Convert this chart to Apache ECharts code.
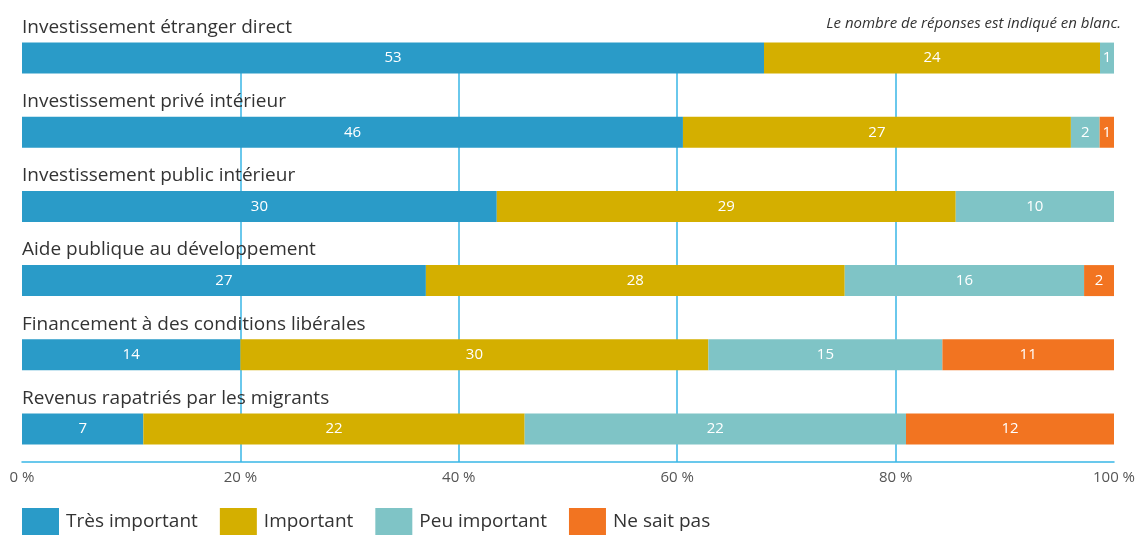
<!DOCTYPE html>
<html><head><meta charset="utf-8">
<script src="https://cdn.jsdelivr.net/npm/echarts@6/dist/echarts.min.js"></script>
<style>html,body{margin:0;padding:0;background:#fff}#c{width:1140px;height:538px}</style>
</head><body><div id="c"></div>
<script>
const categories = [
  "Investissement étranger direct",
  "Investissement privé intérieur",
  "Investissement public intérieur",
  "Aide publique au développement",
  "Financement à des conditions libérales",
  "Revenus rapatriés par les migrants"
];
const seriesNames = ["Très important", "Important", "Peu important", "Ne sait pas"];
const tresImportant = [53, 46, 30, 27, 14, 7];
const important = [24, 27, 29, 28, 30, 22];
const peuImportant = [1, 2, 10, 16, 15, 22];
const neSaitPas = [0, 1, 0, 2, 11, 12];
const xTicks = [0, 20, 40, 60, 80, 100];
const note = "Le nombre de réponses est indiqué en blanc.";

const counts = [tresImportant, important, peuImportant, neSaitPas];
const colors = ["#2a9bc8", "#d4af00", "#7fc4c6", "#f27421"];
const totals = categories.map((_, i) => counts.reduce((s, a) => s + a[i], 0));
const FONT = "'Open Sans', 'Noto Sans', sans-serif";

const series = counts.map((arr, k) => ({
  name: seriesNames[k],
  type: 'bar',
  stack: 'all',
  xAxisIndex: 0, yAxisIndex: 0,
  barWidth: 31,
  itemStyle: { color: colors[k] },
  data: arr.map((v, i) => ({ value: v / totals[i] * 100, count: v })),
  label: {
    show: true, position: 'inside', color: '#fff', fontSize: 15, fontFamily: FONT,
    formatter: p => p.data.count > 0 ? String(p.data.count) : ''
  },
  emphasis: { disabled: true }
}));

const chart = echarts.init(document.getElementById('c'));
chart.setOption({
  animation: false,
  title: {
    text: note, right: 19, top: 16, padding: 0,
    textStyle: { fontStyle: 'italic', fontWeight: 'normal', fontSize: 15, color: '#333', fontFamily: FONT }
  },
  legend: {
    bottom: 3, left: 22, padding: 0, itemWidth: 37, itemHeight: 27, itemGap: 22,
    icon: 'rect',
    textStyle: { fontSize: 19, color: '#333', fontFamily: FONT, padding: [0, 0, 0, 2] },
    data: seriesNames
  },
  grid: [
    { left: 22, right: 26, top: 21, height: 445 },
    { left: 22, right: 26, top: 43, bottom: 76 }
  ],
  xAxis: [
    { gridIndex: 0, type: 'value', min: 0, max: 100, show: false },
    {
      gridIndex: 1, type: 'value', min: xTicks[0], max: xTicks[xTicks.length - 1], interval: xTicks[1] - xTicks[0],
      axisLine: { show: true, lineStyle: { color: '#38b6e6', width: 1.5 } },
      axisTick: { show: false },
      splitLine: { show: true, showMinLine: false, showMaxLine: false, lineStyle: { color: '#38b6e6', width: 1.5 } },
      axisLabel: { formatter: '{value} %', color: '#555', fontSize: 15, fontFamily: FONT, margin: 8 }
    }
  ],
  yAxis: [
    {
      gridIndex: 0, type: 'category', inverse: true, data: categories,
      axisLine: { show: false }, axisTick: { show: false }, splitLine: { show: false },
      axisLabel: {
        inside: true, margin: 0, align: 'left', verticalAlign: 'bottom',
        padding: [0, 0, 21, 0], color: '#333', fontSize: 19, fontFamily: FONT
      }
    },
    { gridIndex: 1, type: 'value', show: false, min: 0, max: 1 }
  ],
  series: series
});
</script></body></html>
